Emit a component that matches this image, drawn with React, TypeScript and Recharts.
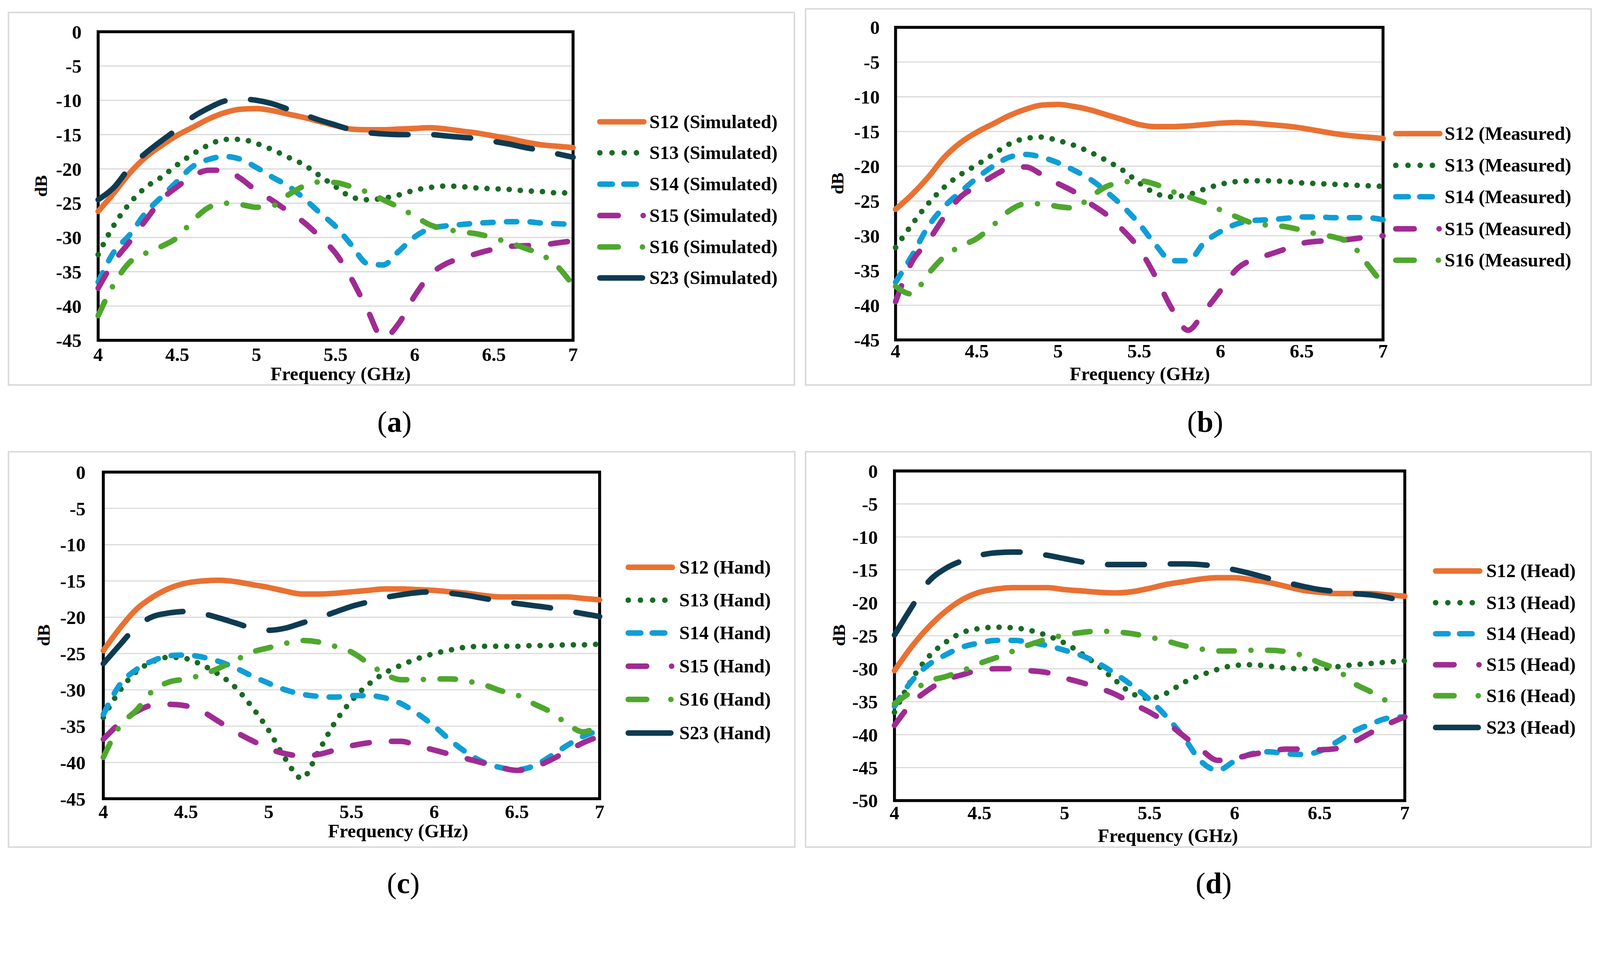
import React from 'react'
import { LineChart, Line, XAxis, YAxis, CartesianGrid, ReferenceArea } from 'recharts'

// frequency grid (GHz), shared by all four panels
const freq = [
    4.0, 4.1, 4.2, 4.3, 4.4, 4.5, 4.6, 4.7, 4.8, 4.9, 5.0, 5.1, 5.2, 5.3, 5.4, 5.5,
    5.6, 5.7, 5.8, 5.9, 6.0, 6.1, 6.2, 6.3, 6.4, 6.5, 6.6, 6.7, 6.8, 6.9, 7.0,
]
const freqTicks = [4, 4.5, 5, 5.5, 6, 6.5, 7]
const dbTicks45 = [0, -5, -10, -15, -20, -25, -30, -35, -40, -45]
const dbTicks50 = [0, -5, -10, -15, -20, -25, -30, -35, -40, -45, -50]

// (a) simulated
const simS12 = [-26.2, -23.5, -20.6, -18.3, -16.6, -15.1, -13.9, -12.7, -11.8, -11.3, -11.2, -11.5, -12.0, -12.5, -13.1, -13.7, -14.2, -14.3, -14.3, -14.2, -14.1, -14.0, -14.2, -14.5, -14.8, -15.2, -15.6, -16.1, -16.5, -16.7, -16.9]
const simS13 = [-32.5, -28.2, -25.0, -22.7, -21.2, -19.4, -17.8, -16.5, -15.7, -15.7, -16.3, -17.2, -18.3, -19.4, -21.0, -22.6, -24.1, -24.5, -24.3, -23.8, -23.1, -22.7, -22.5, -22.6, -22.8, -22.9, -23.0, -23.2, -23.3, -23.5, -23.5]
const simS14 = [-36.5, -32.1, -29.6, -26.4, -24.1, -21.8, -19.6, -18.6, -18.2, -18.6, -19.8, -21.2, -22.5, -24.3, -26.4, -28.4, -31.1, -33.8, -34.0, -32.0, -29.9, -28.7, -28.3, -28.1, -27.9, -27.8, -27.7, -27.7, -27.9, -28.0, -28.1]
const simS15 = [-37.4, -33.5, -30.6, -27.5, -24.5, -22.6, -21.0, -20.2, -20.2, -21.4, -23.2, -24.6, -26.2, -27.8, -29.9, -32.3, -36.0, -40.5, -44.7, -42.5, -38.5, -35.4, -33.8, -33.0, -32.3, -31.7, -31.3, -31.2, -31.1, -30.8, -30.5]
const simS16 = [-41.4, -36.8, -33.6, -32.3, -31.3, -30.0, -27.5, -25.6, -25.0, -25.2, -25.6, -25.4, -23.8, -22.5, -21.9, -22.0, -22.6, -23.4, -24.5, -25.6, -26.9, -28.2, -28.8, -29.2, -29.5, -30.1, -30.8, -31.6, -32.5, -34.2, -37.0]
const simS23 = [-24.5, -22.7, -19.8, -17.7, -15.9, -14.2, -12.4, -11.1, -10.1, -9.8, -10.0, -10.5, -11.3, -12.1, -12.9, -13.6, -14.3, -14.7, -14.9, -15.0, -15.0, -15.0, -15.2, -15.4, -15.6, -16.0, -16.4, -16.9, -17.3, -17.8, -18.3]

// (b) measured
const measS12 = [-26.2, -24.1, -21.6, -18.7, -16.6, -15.1, -13.9, -12.7, -11.8, -11.2, -11.1, -11.4, -11.9, -12.6, -13.3, -14.0, -14.3, -14.3, -14.2, -14.0, -13.8, -13.7, -13.8, -14.0, -14.2, -14.5, -14.9, -15.3, -15.6, -15.8, -16.0]
const measS13 = [-31.7, -28.4, -25.4, -23.0, -21.2, -19.8, -18.3, -16.8, -16.0, -15.8, -16.3, -17.0, -18.0, -19.2, -20.6, -22.4, -23.9, -24.4, -24.1, -23.3, -22.6, -22.2, -22.1, -22.1, -22.2, -22.4, -22.5, -22.6, -22.7, -22.8, -22.9]
const measS14 = [-36.7, -32.9, -28.7, -25.8, -23.7, -21.7, -20.0, -18.7, -18.3, -18.7, -19.5, -20.6, -21.9, -23.7, -25.8, -28.3, -31.3, -33.6, -33.6, -31.0, -29.4, -28.3, -27.8, -27.7, -27.5, -27.3, -27.3, -27.4, -27.4, -27.4, -27.7]
const measS15 = [-39.5, -33.8, -30.8, -27.3, -24.4, -22.9, -21.4, -20.3, -20.1, -21.2, -22.5, -23.7, -25.4, -27.0, -29.2, -31.9, -35.9, -40.5, -43.6, -40.9, -37.9, -34.8, -33.4, -32.7, -31.9, -31.1, -30.8, -30.7, -30.5, -30.2, -30.0]
const measS16 = [-37.3, -38.4, -35.5, -33.0, -31.5, -30.4, -28.5, -26.4, -25.4, -25.4, -25.8, -26.0, -24.4, -22.9, -22.3, -22.1, -22.6, -23.6, -24.4, -25.2, -26.3, -27.3, -28.2, -28.5, -28.7, -29.2, -29.8, -30.2, -31.1, -34.0, -37.0]

// (c) hand
const handS12 = [-24.6, -21.5, -18.9, -17.2, -16.0, -15.3, -15.0, -14.9, -15.1, -15.5, -15.9, -16.4, -16.8, -16.8, -16.7, -16.5, -16.3, -16.1, -16.1, -16.2, -16.3, -16.5, -16.7, -17.0, -17.2, -17.2, -17.2, -17.2, -17.2, -17.4, -17.6]
const handS13 = [-33.8, -30.1, -27.5, -26.1, -25.5, -25.7, -26.6, -27.9, -29.7, -32.4, -35.6, -39.5, -42.2, -38.5, -34.5, -31.5, -29.3, -27.7, -26.6, -25.7, -25.0, -24.5, -24.1, -24.0, -24.0, -24.0, -23.9, -23.9, -23.8, -23.8, -23.7]
const handS14 = [-33.4, -29.3, -27.2, -26.0, -25.3, -25.2, -25.5, -26.1, -27.0, -28.1, -29.1, -30.0, -30.6, -30.9, -31.0, -30.8, -30.8, -31.1, -31.9, -33.3, -35.0, -37.0, -38.7, -40.0, -40.7, -41.0, -40.5, -39.2, -37.7, -36.4, -35.6]
const handS15 = [-36.8, -34.6, -33.0, -32.1, -32.0, -32.2, -33.0, -34.4, -35.8, -37.0, -38.1, -38.8, -39.1, -38.9, -38.3, -37.7, -37.3, -37.1, -37.1, -37.7, -38.3, -38.9, -39.5, -40.1, -40.7, -41.1, -40.7, -39.7, -38.5, -37.3, -36.4]
const handS16 = [-39.3, -35.0, -32.8, -30.1, -28.9, -28.5, -27.9, -27.0, -25.9, -24.8, -24.2, -23.6, -23.2, -23.4, -24.0, -24.8, -26.3, -27.8, -28.6, -28.6, -28.5, -28.5, -28.8, -29.3, -30.1, -30.7, -31.9, -33.0, -34.6, -35.8, -34.8]
const handS23 = [-26.4, -23.8, -21.3, -19.9, -19.4, -19.2, -19.5, -20.1, -20.8, -21.5, -21.8, -21.5, -20.8, -20.1, -19.3, -18.5, -17.9, -17.3, -16.9, -16.6, -16.5, -16.7, -17.0, -17.4, -17.8, -18.1, -18.4, -18.7, -19.1, -19.5, -19.9]

// (d) head
const headS12 = [-30.3, -26.7, -23.7, -21.3, -19.5, -18.4, -17.9, -17.7, -17.7, -17.7, -18.0, -18.2, -18.4, -18.5, -18.3, -17.8, -17.2, -16.8, -16.4, -16.2, -16.2, -16.5, -16.9, -17.5, -18.1, -18.4, -18.6, -18.6, -18.6, -18.8, -19.0]
const headS13 = [-36.6, -31.7, -28.2, -26.0, -24.5, -23.9, -23.7, -23.8, -24.2, -25.0, -26.1, -27.7, -29.6, -31.8, -33.8, -34.5, -33.7, -32.1, -31.0, -30.1, -29.5, -29.4, -29.6, -29.9, -30.0, -30.0, -29.7, -29.4, -29.2, -29.0, -28.8]
const headS14 = [-35.7, -31.9, -29.4, -27.9, -26.7, -26.1, -25.7, -25.7, -26.0, -26.5, -27.2, -28.0, -29.2, -30.8, -32.6, -34.7, -37.3, -40.4, -44.0, -45.4, -44.0, -42.9, -42.6, -42.9, -43.0, -42.5, -41.1, -39.5, -38.4, -37.5, -37.3]
const headS15 = [-38.6, -35.3, -33.2, -31.7, -30.9, -30.2, -30.0, -30.0, -30.3, -30.6, -31.4, -32.1, -32.9, -33.9, -35.3, -36.6, -38.2, -40.2, -42.2, -43.9, -43.6, -43.0, -42.6, -42.2, -42.2, -42.3, -42.1, -41.1, -39.7, -38.4, -37.3]
const headS16 = [-35.3, -33.5, -31.9, -31.2, -30.3, -29.2, -28.3, -27.3, -26.3, -25.5, -24.9, -24.5, -24.3, -24.4, -24.7, -25.2, -25.8, -26.5, -27.0, -27.3, -27.3, -27.2, -27.2, -27.4, -28.0, -29.1, -30.1, -32.2, -33.5, -35.0, null]
const headS23 = [-24.9, -20.7, -16.8, -14.8, -13.6, -12.8, -12.4, -12.3, -12.4, -12.8, -13.3, -13.8, -14.2, -14.2, -14.2, -14.2, -14.1, -14.1, -14.2, -14.5, -15.0, -15.6, -16.3, -16.9, -17.5, -18.0, -18.3, -18.6, -18.8, -19.2, -19.8]

const SERIF = '"Liberation Serif", "Times New Roman", serif'
const LINE_W = 15
const PAGE_W = 4336
const PAGE_H = 2457

type Style = { color: string; dash?: string; legendDash?: string; legendEnd: number }

const seriesStyle: Record<string, Style> = {
    S12: { color: '#E97132', legendEnd: 127 },
    S13: { color: '#196B24', dash: '0.1 30', legendDash: '0.1 33', legendEnd: 110 },
    S14: { color: '#0F9ED5', dash: '28 36', legendDash: '34 31', legendEnd: 108 },
    S15: { color: '#A02B93', dash: '46 60', legendDash: '50 67.5 0.1 100', legendEnd: 126 },
    S16: { color: '#4EA72E', dash: '42 45 0.1 45', legendDash: '50 65.5 0.1 100', legendEnd: 124 },
    S23: { color: '#0E3B52', dash: '100 70', legendEnd: 123 },
}

type Rect = { x: number; y: number; w: number; h: number }

interface PanelSpec {
    suffix: string
    letter: string
    series: { id: string; values: (number | null)[] }[]
    yTicks: number[]
    box: Rect
    plot: Rect
    yTickGap: number
    xTickGap: number
    legendX: number
    legendTextX: number
    legendRows: number[]
    dbPos: [number, number]
    freqPos: [number, number]
    captionPos: [number, number]
}

const panels: PanelSpec[] = [
    {
        suffix: 'Simulated', letter: 'a',
        series: [
            { id: 'S12', values: simS12 }, { id: 'S13', values: simS13 }, { id: 'S14', values: simS14 },
            { id: 'S15', values: simS15 }, { id: 'S16', values: simS16 }, { id: 'S23', values: simS23 },
        ],
        yTicks: dbTicks45,
        box: { x: 21, y: 32, w: 2134, h: 1013 },
        plot: { x: 266, y: 86, w: 1287, h: 836 },
        yTickGap: 45, xTickGap: 19,
        legendX: 1618, legendTextX: 1760, legendRows: [330, 414, 499, 584, 669, 753],
        dbPos: [111, 504], freqPos: [923, 1013], captionPos: [1069, 1143],
    },
    {
        suffix: 'Measured', letter: 'b',
        series: [
            { id: 'S12', values: measS12 }, { id: 'S13', values: measS13 }, { id: 'S14', values: measS14 },
            { id: 'S15', values: measS15 }, { id: 'S16', values: measS16 },
        ],
        yTicks: dbTicks45,
        box: { x: 2181, y: 22, w: 2133, h: 1023 },
        plot: { x: 2427, y: 74, w: 1321, h: 847 },
        yTickGap: 43, xTickGap: 11,
        legendX: 3775, legendTextX: 3915, legendRows: [362, 448, 533, 620, 705],
        dbPos: [2269, 497], freqPos: [3089, 1013], captionPos: [3266, 1143],
    },
    {
        suffix: 'Hand', letter: 'c',
        series: [
            { id: 'S12', values: handS12 }, { id: 'S13', values: handS13 }, { id: 'S14', values: handS14 },
            { id: 'S15', values: handS15 }, { id: 'S16', values: handS16 }, { id: 'S23', values: handS23 },
        ],
        yTicks: dbTicks45,
        box: { x: 21, y: 1222, w: 2135, h: 1075 },
        plot: { x: 280, y: 1279, w: 1345, h: 885 },
        yTickGap: 48, xTickGap: 16,
        legendX: 1695, legendTextX: 1841, legendRows: [1537, 1626, 1715, 1805, 1895, 1986],
        dbPos: [118, 1721], freqPos: [1079, 2252], captionPos: [1093, 2393],
    },
    {
        suffix: 'Head', letter: 'd',
        series: [
            { id: 'S12', values: headS12 }, { id: 'S13', values: headS13 }, { id: 'S14', values: headS14 },
            { id: 'S15', values: headS15 }, { id: 'S16', values: headS16 }, { id: 'S23', values: headS23 },
        ],
        yTicks: dbTicks50,
        box: { x: 2181, y: 1222, w: 2133, h: 1075 },
        plot: { x: 2424, y: 1276, w: 1383, h: 893 },
        yTickGap: 45, xTickGap: 14,
        legendX: 3883, legendTextX: 4028, legendRows: [1547, 1633, 1717, 1801, 1885, 1971],
        dbPos: [2274, 1721], freqPos: [3165, 2265], captionPos: [3289, 2393],
    },
]

const tickStyle = { fontSize: 52, fontFamily: SERIF, fontWeight: 700, fill: '#000' }

function Panel({ spec }: { spec: PanelSpec }) {
    const { box, plot } = spec
    const rows = freq.map((f, i) => {
        const row: Record<string, number | null> = { f }
        spec.series.forEach((s) => { row[s.id] = s.values[i] })
        return row
    })
    const yMin = spec.yTicks[spec.yTicks.length - 1]

    return (
        <>
            <div
                style={{
                    position: 'absolute', left: box.x, top: box.y, width: box.w, height: box.h,
                    boxSizing: 'border-box', border: '4px solid #d9d9d9', background: '#fff',
                }}
            />
            <div style={{ position: 'absolute', left: box.x, top: box.y }}>
                <LineChart
                    width={box.w}
                    height={box.h}
                    data={rows}
                    margin={{ top: plot.y - box.y, right: box.x + box.w - plot.x - plot.w, bottom: 0, left: 0 }}
                >
                    <CartesianGrid vertical={false} stroke="#d9d9d9" strokeWidth={3} />
                    <XAxis
                        dataKey="f"
                        type="number"
                        domain={[4, 7]}
                        ticks={freqTicks}
                        interval={0}
                        height={box.y + box.h - plot.y - plot.h}
                        axisLine={false}
                        tickLine={false}
                        tickSize={0}
                        tickMargin={spec.xTickGap}
                        tick={tickStyle}
                    />
                    <YAxis
                        type="number"
                        domain={[yMin, 0]}
                        ticks={spec.yTicks}
                        interval={0}
                        width={plot.x - box.x}
                        axisLine={false}
                        tickLine={false}
                        tickSize={0}
                        tickMargin={spec.yTickGap}
                        tick={tickStyle}
                    />
                    {spec.series.map((s) => {
                        const st = seriesStyle[s.id]
                        return (
                            <Line
                                key={s.id}
                                dataKey={s.id}
                                type="monotone"
                                stroke={st.color}
                                strokeWidth={LINE_W}
                                strokeDasharray={st.dash}
                                strokeLinecap="round"
                                dot={false}
                                activeDot={false}
                                isAnimationActive={false}
                            />
                        )
                    })}
                    <ReferenceArea
                        x1={4}
                        x2={7}
                        y1={yMin}
                        y2={0}
                        fill="none"
                        fillOpacity={0}
                        stroke="#000"
                        strokeWidth={8}
                        ifOverflow="visible"
                    />
                </LineChart>
            </div>

            {spec.series.map((s, i) => {
                const st = seriesStyle[s.id]
                const y = spec.legendRows[i]
                return (
                    <React.Fragment key={s.id}>
                        <svg
                            width={150}
                            height={30}
                            style={{ position: 'absolute', left: spec.legendX, top: y - 15 }}
                        >
                            <line
                                x1={7.5}
                                y1={15}
                                x2={st.legendEnd}
                                y2={15}
                                stroke={st.color}
                                strokeWidth={LINE_W}
                                strokeLinecap="round"
                                strokeDasharray={st.legendDash}
                            />
                        </svg>
                        <div
                            style={{
                                position: 'absolute', left: spec.legendTextX, top: y - 30, height: 60,
                                lineHeight: '60px', fontFamily: SERIF, fontWeight: 700, fontSize: 51,
                                whiteSpace: 'nowrap', color: '#000',
                            }}
                        >
                            {`${s.id} (${spec.suffix})`}
                        </div>
                    </React.Fragment>
                )
            })}

            <div
                style={{
                    position: 'absolute', left: spec.dbPos[0], top: spec.dbPos[1],
                    transform: 'translate(-50%, -50%) rotate(-90deg)', fontFamily: SERIF,
                    fontWeight: 700, fontSize: 48, lineHeight: 1, whiteSpace: 'nowrap',
                }}
            >
                dB
            </div>
            <div
                style={{
                    position: 'absolute', left: spec.freqPos[0], top: spec.freqPos[1],
                    transform: 'translate(-50%, -50%)', fontFamily: SERIF, fontWeight: 700,
                    fontSize: 51, lineHeight: 1, whiteSpace: 'nowrap',
                }}
            >
                Frequency (GHz)
            </div>
            <div
                style={{
                    position: 'absolute', left: spec.captionPos[0], top: spec.captionPos[1],
                    transform: 'translate(-50%, -50%)', fontFamily: SERIF, fontSize: 80,
                    lineHeight: 1, whiteSpace: 'nowrap',
                }}
            >
                (<b>{spec.letter}</b>)
            </div>
        </>
    )
}

export default function App() {
    // the layout is drawn in screenshot pixels; fit it to whatever CSS viewport the page gets
    const fit = typeof window !== 'undefined' && window.innerWidth > 0 ? window.innerWidth / PAGE_W : 1
    return (
        <div
            style={{
                position: 'fixed', left: 0, top: 0, width: PAGE_W, height: PAGE_H, background: '#fff',
                overflow: 'hidden', transform: `scale(${fit})`, transformOrigin: '0 0',
            }}
        >
            {panels.map((p) => (
                <Panel key={p.letter} spec={p} />
            ))}
        </div>
    )
}
